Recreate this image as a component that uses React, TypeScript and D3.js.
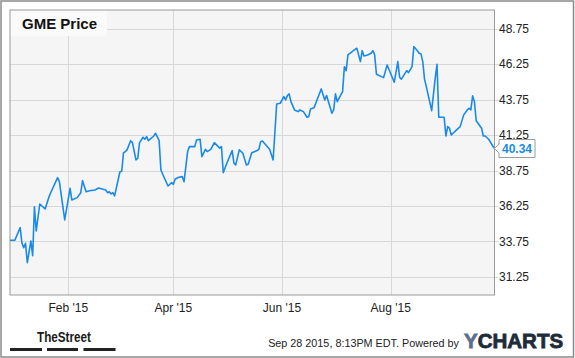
import React from "react";
import * as d3 from "d3";

const dates: string[] = [
  "2014-12-30","2015-01-02","2015-01-05","2015-01-06","2015-01-07","2015-01-08","2015-01-09","2015-01-11","2015-01-12","2015-01-13",
  "2015-01-14","2015-01-16","2015-01-19","2015-01-21","2015-01-22","2015-01-26","2015-01-27","2015-01-30","2015-02-02","2015-02-03",
  "2015-02-06","2015-02-08","2015-02-09","2015-02-11","2015-02-13","2015-02-16","2015-02-18","2015-02-22","2015-02-23","2015-02-24",
  "2015-02-25","2015-02-26","2015-02-27","2015-03-02","2015-03-03","2015-03-04","2015-03-05","2015-03-06","2015-03-08","2015-03-09",
  "2015-03-11","2015-03-12","2015-03-13","2015-03-15","2015-03-16","2015-03-17","2015-03-18","2015-03-21","2015-03-22","2015-03-24",
  "2015-03-25","2015-03-27","2015-03-29","2015-03-31","2015-04-01","2015-04-02","2015-04-04","2015-04-06","2015-04-07","2015-04-08",
  "2015-04-09","2015-04-10","2015-04-13","2015-04-14","2015-04-16","2015-04-17","2015-04-19","2015-04-20","2015-04-22","2015-04-24",
  "2015-04-27","2015-04-28","2015-04-29","2015-05-01","2015-05-04","2015-05-05","2015-05-06","2015-05-08","2015-05-10","2015-05-12",
  "2015-05-13","2015-05-15","2015-05-18","2015-05-19","2015-05-20","2015-05-21","2015-05-25","2015-05-27","2015-05-29","2015-05-31",
  "2015-06-02","2015-06-03","2015-06-04","2015-06-05","2015-06-06","2015-06-08","2015-06-10","2015-06-11","2015-06-13","2015-06-15",
  "2015-06-16","2015-06-17","2015-06-19","2015-06-21","2015-06-23","2015-06-25","2015-06-26","2015-06-29","2015-06-30","2015-07-01",
  "2015-07-02","2015-07-05","2015-07-06","2015-07-07","2015-07-08","2015-07-12","2015-07-13","2015-07-15","2015-07-16","2015-07-17",
  "2015-07-19","2015-07-21","2015-07-22","2015-07-23","2015-07-24","2015-07-28","2015-07-30","2015-07-31","2015-08-03","2015-08-05",
  "2015-08-06","2015-08-07","2015-08-10","2015-08-11","2015-08-13","2015-08-14","2015-08-16","2015-08-17","2015-08-18","2015-08-19",
  "2015-08-20","2015-08-21","2015-08-24","2015-08-26","2015-08-27","2015-08-28","2015-08-31","2015-09-01","2015-09-02","2015-09-03",
  "2015-09-04","2015-09-07","2015-09-09","2015-09-11","2015-09-13","2015-09-14","2015-09-15","2015-09-16","2015-09-17","2015-09-18",
  "2015-09-21","2015-09-22","2015-09-23","2015-09-25","2015-09-28",
];

const prices: number[] = [
  33.83,33.83,34.72,33.62,33.31,33.62,32.25,33.78,32.75,36.2,
  34.49,36.39,36.04,36.84,37.15,38.25,37.97,35.27,37.5,36.68,
  36.84,37.19,38.04,37.26,37.33,37.38,37.52,37.38,37.19,37.26,
  37.1,37.19,36.96,38.67,38.7,40.01,40.09,40.21,40.86,40.72,
  39.5,39.62,40.72,41.1,40.96,41.14,40.86,41.19,41.38,40.86,
  38.79,38.21,37.66,37.9,37.78,38.16,38.28,38.32,37.97,39.03,
  40.09,40.44,40.44,40.91,40.96,39.73,40.25,40.09,40.25,40.72,
  40.33,40.44,38.6,39.27,40.16,39.27,39.15,40.21,39.97,39.15,
  39.2,40.01,40.16,40.25,40.79,40.84,40.25,39.5,43.45,43.5,
  43.97,43.73,44.04,44.16,43.61,43.03,42.91,43.03,42.91,42.51,
  42.56,43.1,43.19,43.85,44.51,43.73,44.04,42.8,43.03,44.16,
  43.61,44.32,46.08,45.8,46.91,47.31,47.38,46.44,47.21,46.84,
  46.91,47.03,47.21,46.91,45.55,45.31,46.2,45.9,44.98,46.44,
  45.34,45.2,45.8,45.66,46.08,47.5,47.21,47.03,46.98,46.44,
  45.2,44.67,42.98,45.27,46.25,42.51,42.51,41.19,41.85,41.74,
  41.26,41.62,41.85,42.68,43.03,43.15,43.03,44.02,43.61,42.27,
  41.74,41.19,41.19,40.96,40.34,
];

const yTicks: number[] = [31.25, 33.75, 36.25, 38.75, 41.25, 43.75, 46.25, 48.75];
const xTickDates: string[] = ["2015-02-01", "2015-04-01", "2015-06-01", "2015-08-01"];
const xTickLabels: string[] = ["Feb '15", "Apr '15", "Jun '15", "Aug '15"];
const title = "GME Price";
const lastLabel = "40.34";
const footerText = "Sep 28 2015, 8:13PM EDT. Powered by";

const W = 575;
const H = 358;
const L = 10, T = 10, R = 494.5, B = 295;
const FONT = "'Liberation Sans', Arial, sans-serif";

export default function App() {
  const parse = d3.timeParse("%Y-%m-%d");
  const data = dates.map((d, i) => ({ date: parse(d) as Date, v: prices[i] }));
  const x = d3
    .scaleTime()
    .domain([parse("2014-12-30") as Date, parse("2015-09-28") as Date])
    .range([9.5, 494]);
  const y = d3.scaleLinear().domain([29.97, 50.08]).range([B, T]);
  const line = d3
    .line<{ date: Date; v: number }>()
    .x((d) => x(d.date))
    .y((d) => y(d.v));
  const last = data[data.length - 1];
  const lx = x(last.date);
  const ly = y(last.v);
  const bx = 499;

  return (
    <svg
      width={W}
      height={H}
      style={{ position: "absolute", left: 0, top: 0, background: "#fff" }}
      fontFamily={FONT}
    >
      <defs>
        <clipPath id="plotclip">
          <rect x={L} y={T} width={R - L} height={B - T} />
        </clipPath>
      </defs>
      <rect x={1} y={1} width={W - 2.5} height={H - 2} fill="#fff" stroke="#8a8a8a" strokeWidth={1.5} />
      <rect x={L} y={T} width={R - L} height={B - T} fill="#f5f5f5" />
      {yTicks.map((t) => (
        <line key={"gy" + t} x1={L} x2={R + 4} y1={Math.round(y(t)) + 0.5} y2={Math.round(y(t)) + 0.5} stroke="#d8d8d8" strokeWidth={1} />
      ))}
      {xTickDates.map((d) => {
        const xx = Math.round(x(parse(d) as Date)) + 0.5;
        return <line key={"gx" + d} x1={xx} x2={xx} y1={T} y2={B} stroke="#d8d8d8" strokeWidth={1} />;
      })}
      <rect x={L} y={T} width={97} height={26} fill="#fafafa" />
      <text x={22} y={28.5} fontSize={15} fontWeight="bold" fill="#111">
        {title}
      </text>
      <rect x={L} y={T} width={R - L} height={B - T} fill="none" stroke="#9a9a9a" strokeWidth={1} />
      <path d={line(data) || ""} fill="none" stroke="#1a8aea" strokeWidth={1.6} strokeLinejoin="round" clipPath="url(#plotclip)" />
      {yTicks.map((t) => (
        <text key={"ty" + t} x={499} y={y(t)} dy="0.35em" fontSize={12} fill="#222">
          {t.toFixed(2)}
        </text>
      ))}
      {xTickDates.map((d, i) => (
        <text key={"tx" + d} x={x(parse(d) as Date)} y={312} fontSize={12} fill="#222" textAnchor="middle">
          {xTickLabels[i]}
        </text>
      ))}
      <path
        d={`M${bx},${ly - 8.5} L${bx + 36},${ly - 8.5} L${bx + 36},${ly + 9.5} L${bx},${ly + 9.5} L${bx},${ly + 5} L${lx + 0.5},${ly + 0.5} L${bx},${ly - 4} Z`}
        fill="#fff"
        stroke="#9a9a9a"
        strokeWidth={1}
      />
      <text x={bx + 3} y={ly + 5} fontSize={12} fontWeight="bold" fill="#1a8aea">
        {lastLabel}
      </text>
      <text
        x={37}
        y={342}
        fontSize={15}
        fontWeight="bold"
        fill="#1a1a1a"
        textLength={54}
        lengthAdjust="spacingAndGlyphs"
      >
        TheStreet
      </text>
      <rect x={10} y={348} width={32} height={3} fill="#222" />
      <rect x={47} y={348} width={31} height={3} fill="#222" />
      <rect x={83.5} y={348} width={32} height={3} fill="#222" />
      <text x={459} y={347} fontSize={10.8} fill="#222" textAnchor="end">
        {footerText}
      </text>
      <text x={464} y={348} fontSize={20.5} fontWeight="bold" strokeWidth={0.8}>
        <tspan fill="#5a6e8e" stroke="#5a6e8e">Y</tspan>
        <tspan fill="#1d2b3b" stroke="#1d2b3b">CHARTS</tspan>
      </text>
    </svg>
  );
}
